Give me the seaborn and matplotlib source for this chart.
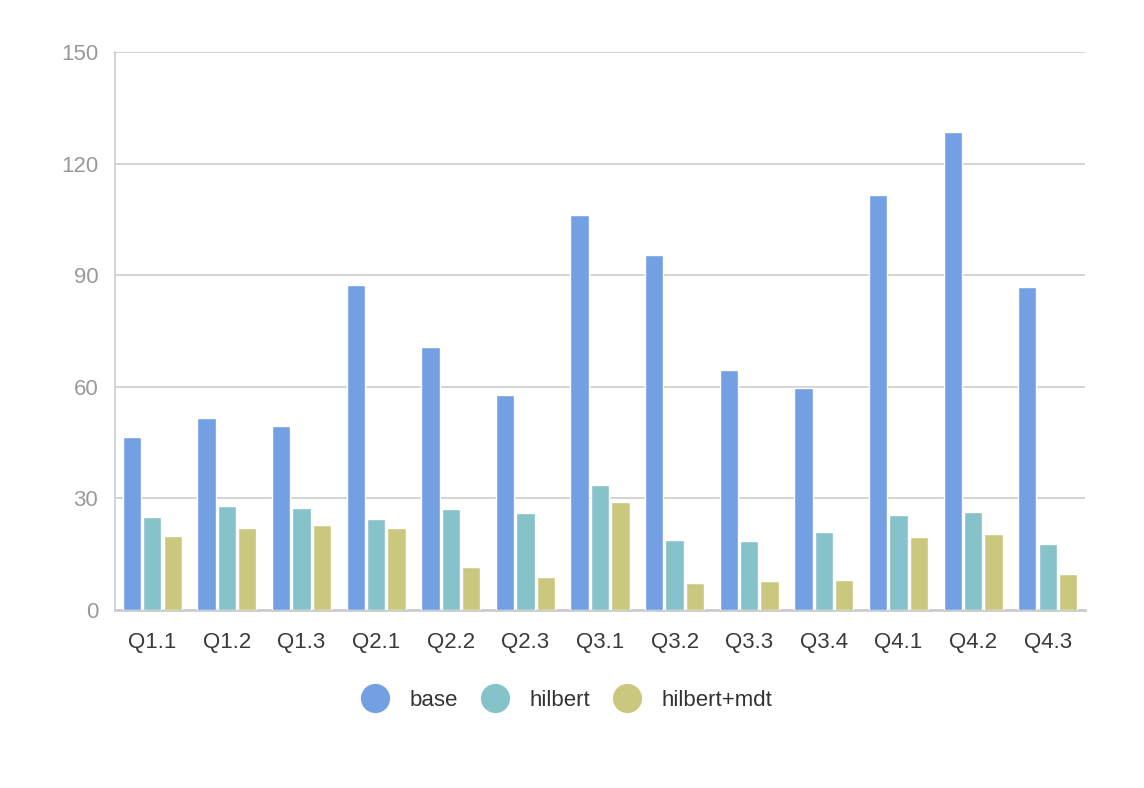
"""
Grouped bar chart of query cost for base / hilbert / hilbert+mdt.
"""
import numpy as np
import pandas as pd
import matplotlib
matplotlib.use('Agg')
import matplotlib.pyplot as plt
from matplotlib.lines import Line2D
import seaborn as sns

QUERIES = ['Q1.1', 'Q1.2', 'Q1.3', 'Q2.1', 'Q2.2', 'Q2.3', 'Q3.1',
           'Q3.2', 'Q3.3', 'Q3.4', 'Q4.1', 'Q4.2', 'Q4.3']
SERIES = ['base', 'hilbert', 'hilbert+mdt']

base = [46.5, 51.5, 49.5, 87.5, 70.8, 57.9, 106.1, 95.4, 64.6, 59.7, 111.5, 128.5, 86.9]
hilbert = [25.0, 28.0, 27.4, 24.4, 27.2, 26.1, 33.7, 18.8, 18.6, 21.0, 25.6, 26.3, 17.8]
hilbert_mdt = [20.0, 22.0, 22.8, 22.1, 11.5, 8.8, 29.0, 7.3, 7.8, 8.0, 19.5, 20.5, 9.8]

Y_TICKS = [0, 30, 60, 90, 120, 150]

COLORS = ['#739fe3', '#86c2c9', '#c9c87e']


def build_frame():
    """

    """
    rows = []
    for name, values in zip(SERIES, [base, hilbert, hilbert_mdt]):
        for q, v in zip(QUERIES, values):
            rows.append({'query': q, 'series': name, 'value': v})
    return pd.DataFrame(rows)


if __name__ == '__main__':

    data = build_frame()

    sns.set_style('white')
    plt.rcParams['font.family'] = ['Liberation Sans', 'DejaVu Sans']

    fig = plt.figure(figsize=(11.44, 7.88), dpi=100)
    ax = fig.add_axes([115 / 1144, 1 - 610 / 788, 970 / 1144, 558 / 788])

    sns.barplot(data=data, x='query', y='value', hue='series',
                order=QUERIES, hue_order=SERIES, palette=COLORS,
                width=0.82, gap=0.1, saturation=1, errorbar=None,
                legend=False, ax=ax, zorder=3)

    ax.set_ylim(0, 150)
    ax.set_xlim(-0.5, len(QUERIES) - 0.5)
    ax.set_yticks(Y_TICKS)
    ax.set_yticklabels([str(t) for t in Y_TICKS])
    ax.yaxis.grid(True, color='#cccccc', linewidth=1.2, zorder=0)
    ax.set_axisbelow(True)
    ax.set_xlabel('')
    ax.set_ylabel('')

    for side in ['top', 'right']:
        ax.spines[side].set_visible(False)
    ax.spines['left'].set_color('#cccccc')
    ax.spines['left'].set_linewidth(1.2)
    ax.spines['bottom'].set_color('#cccccc')
    ax.spines['bottom'].set_linewidth(2)

    # ticks sit on the category boundaries
    ax.set_xticks(np.arange(len(QUERIES)))
    ax.set_xticklabels(QUERIES)
    ax.set_xticks(np.arange(len(QUERIES) + 1) - 0.5, minor=True)
    ax.tick_params(axis='x', which='major', length=0, pad=16,
                   labelsize=16, labelcolor='#3a3a3a')
    ax.tick_params(axis='x', which='minor', length=7, width=1.5,
                   color='#cccccc', direction='in')
    ax.tick_params(axis='y', length=0, pad=12, labelsize=16,
                   labelcolor='#999999')

    handles = [Line2D([0], [0], marker='o', linestyle='', markersize=20,
                      markerfacecolor=c, markeredgecolor=c) for c in COLORS]
    leg = fig.legend(handles, SERIES, loc='center', ncol=3,
                     bbox_to_anchor=(567 / 1144, 1 - 700 / 788),
                     frameon=False, fontsize=16, handlelength=1.2,
                     handletextpad=0.95, columnspacing=1.05)
    for text in leg.get_texts():
        text.set_color('#333333')

    fig.savefig('out.png', dpi=100)
